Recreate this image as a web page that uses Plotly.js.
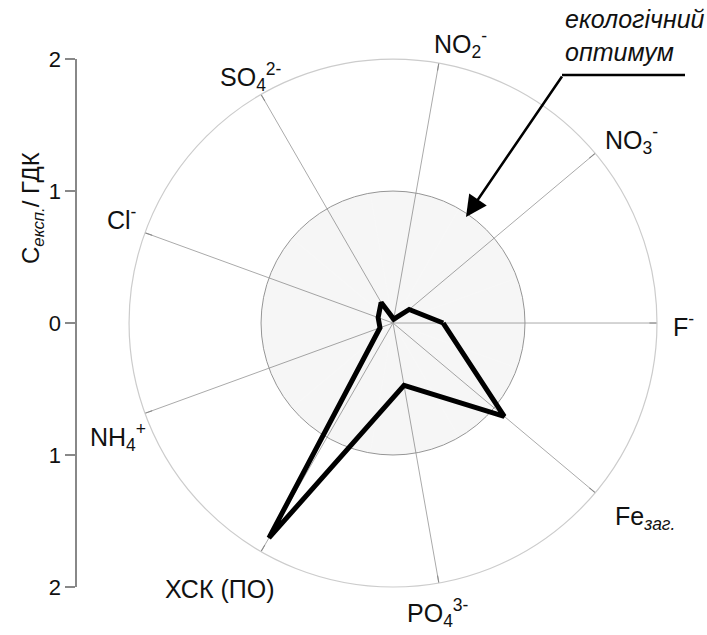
<!DOCTYPE html>
<html>
<head>
<meta charset="utf-8">
<script src="https://cdn.plot.ly/plotly-3.0.1.min.js"></script>
<style>html,body{margin:0;padding:0;background:#fff;}#chart{width:707px;height:635px;}</style>
</head>
<body>
<div id="chart"></div>
<script>
// Categories (counter-clockwise from the east)
const categories = ["F", "NO3", "NO2", "SO4", "Cl", "NH4", "XSK", "PO4", "Fe"];
const categoryLabels = ["F<sup>-</sup>", "NO<sub>3</sub><sup>-</sup>", "NO<sub>2</sub><sup>-</sup>", "SO<sub>4</sub><sup>2-</sup>", "Cl<sup>-</sup>", "NH<sub>4</sub><sup>+</sup>", "ХСК (ПО)", "PO<sub>4</sub><sup>3-</sup>", "Fe<sub><i>заг.</i></sub>"];
// Measured concentration / MPC
const measured = [0.38, 0.16, 0.03, 0.18, 0.12, 0.105, 1.88, 0.48, 1.10];
// Ecological optimum level
const optimum = [1, 1, 1, 1, 1, 1, 1, 1, 1];
// Left scale
const scaleVals = [-2, -1, 0, 1, 2];
const scaleText = ["2", "1", "0", "1", "2"];

// Label placement (layout only): left edge x and vertical centre y, in pixels
const labelLeftPx = [671, 603, 432, 218, 105, 88, 163, 405, 613];
const labelMidPx = [325, 140, 44, 77, 218, 437, 589, 613, 518];

const FONT = "Liberation Sans, Arial, sans-serif";
const W = 707, H = 635;

const traces = [
  {
    type: "barpolar",
    r: optimum,
    theta: categories,
    marker: {color: "rgba(0,0,0,0.035)", line: {width: 0}},
    hoverinfo: "skip",
    showlegend: false
  },
  {
    type: "scatterpolar",
    mode: "lines",
    r: measured.concat([measured[0]]),
    theta: categories.concat([categories[0]]),
    line: {color: "#000", width: 5},
    showlegend: false
  },
  {
    type: "scatter",
    x: [0, 0],
    y: [scaleVals[0], scaleVals[scaleVals.length - 1]],
    mode: "markers",
    marker: {opacity: 0},
    hoverinfo: "skip",
    showlegend: false,
    xaxis: "x",
    yaxis: "y"
  }
];

const labelAnnotations = categoryLabels.map((t, i) => ({
  xref: "paper", yref: "paper",
  x: labelLeftPx[i] / W, y: 1 - labelMidPx[i] / H,
  xanchor: "left", yanchor: "middle",
  text: t,
  showarrow: false,
  font: {family: FONT, size: 25, color: "#111"}
}));

const layout = {
  width: W,
  height: H,
  margin: {l: 0, r: 0, t: 0, b: 0},
  paper_bgcolor: "#fff",
  plot_bgcolor: "rgba(0,0,0,0)",
  font: {family: FONT, size: 21, color: "#111"},
  showlegend: false,
  polar: {
    domain: {x: [0.1825, 0.9293], y: [0.0756, 0.907]},
    bgcolor: "rgba(0,0,0,0)",
    bargap: 0,
    layer: "below traces",
    radialaxis: {
      range: [0, 2],
      tickvals: [1],
      showticklabels: false,
      ticks: "",
      showline: false,
      gridcolor: "#999",
      gridwidth: 1
    },
    angularaxis: {
      type: "category",
      categoryorder: "array",
      categoryarray: categories,
      rotation: 0,
      direction: "counterclockwise",
      tickvals: categories,
      showticklabels: false,
      ticks: "inside",
      ticklen: 7,
      tickcolor: "#888",
      showline: true,
      linecolor: "#ccc",
      linewidth: 1.2,
      gridcolor: "#aaa",
      gridwidth: 1
    }
  },
  xaxis: {
    domain: [0.1089, 0.11],
    range: [0, 1],
    visible: false,
    fixedrange: true
  },
  yaxis: {
    domain: [0.0756, 0.907],
    anchor: "x",
    range: [2, -2],
    autorange: false,
    tickvals: scaleVals,
    ticktext: scaleText,
    ticks: "outside",
    ticklen: 10,
    tickcolor: "#888",
    tickwidth: 1.5,
    showline: true,
    linecolor: "#888",
    linewidth: 1.5,
    showgrid: false,
    zeroline: false,
    tickfont: {family: FONT, size: 22, color: "#111"}
  },
  annotations: labelAnnotations.concat([
    {
      xref: "paper", yref: "paper",
      x: 32 / W, y: 1 - 208 / H,
      xanchor: "center", yanchor: "middle",
      text: "C<sub><i>експ.</i></sub>/ ГДК",
      textangle: -90,
      showarrow: false,
      font: {family: FONT, size: 24, color: "#111"}
    },
    {
      xref: "paper", yref: "paper",
      x: 563 / W, y: 1 - 3 / H,
      xanchor: "left", yanchor: "top",
      align: "left",
      text: "<i>екологічний</i><br><i>оптимум</i>",
      showarrow: false,
      font: {family: FONT, size: 25, color: "#111"}
    },
    {
      xref: "paper", yref: "paper",
      x: 466 / W, y: 1 - 217 / H,
      text: "",
      showarrow: true,
      axref: "pixel", ayref: "pixel",
      ax: 97, ay: -142,
      arrowhead: 2,
      arrowsize: 1.7,
      arrowwidth: 2.5,
      arrowcolor: "#000",
      standoff: 0,
      startstandoff: 0
    }
  ]),
  shapes: [
    {
      type: "line", xref: "paper", yref: "paper",
      x0: 562 / W, x1: 685 / W,
      y0: 1 - 75 / H, y1: 1 - 75 / H,
      line: {color: "#000", width: 2.5}
    }
  ]
};

Plotly.newPlot("chart", traces, layout, {staticPlot: true, displayModeBar: false});
</script>
</body>
</html>
